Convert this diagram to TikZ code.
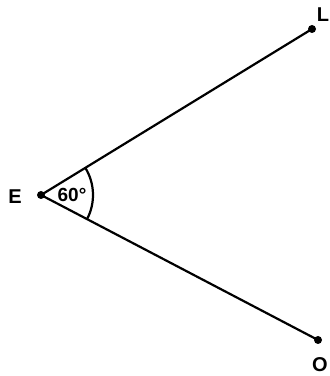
\documentclass[tikz,border=0pt]{standalone}
\usepackage{fontspec}
\setmainfont{Liberation Sans}
\usetikzlibrary{angles,positioning}
\tikzset{
    ray/.style={line width=2.2pt, line cap=round},
    dotPt/.style={circle, fill=black, inner sep=0pt, minimum size=8pt},
    ptLabel/.style={font=\fontsize{20}{20}\selectfont\bfseries, inner sep=0pt},
}
\begin{document}
\begin{tikzpicture}[x=1pt, y=1pt]
    \useasboundingbox (0,0) rectangle (330,376);

    % points
    \node[dotPt] (E) at (41,181) {};
    \node[dotPt] (L) at (312,347) {};
    \node[dotPt] (O) at (318,36) {};

    % rays
    \draw[ray] (E.center) -- (L.center);
    \draw[ray] (E.center) -- (O.center);

    % angle mark
    \pic[draw, line width=2.2pt, angle radius=52pt] {angle=O--E--L};
    \node[ptLabel, font=\fontsize{19}{19}\selectfont\bfseries] (ang) at (72,181) {60°};

    % labels
    \node[ptLabel] (labE) at (15,179) {E};
    \node[ptLabel] (labL) at (323,361) {L};
    \node[ptLabel, anchor=base] (labO) at (320,5) {O};
\end{tikzpicture}
\end{document}
